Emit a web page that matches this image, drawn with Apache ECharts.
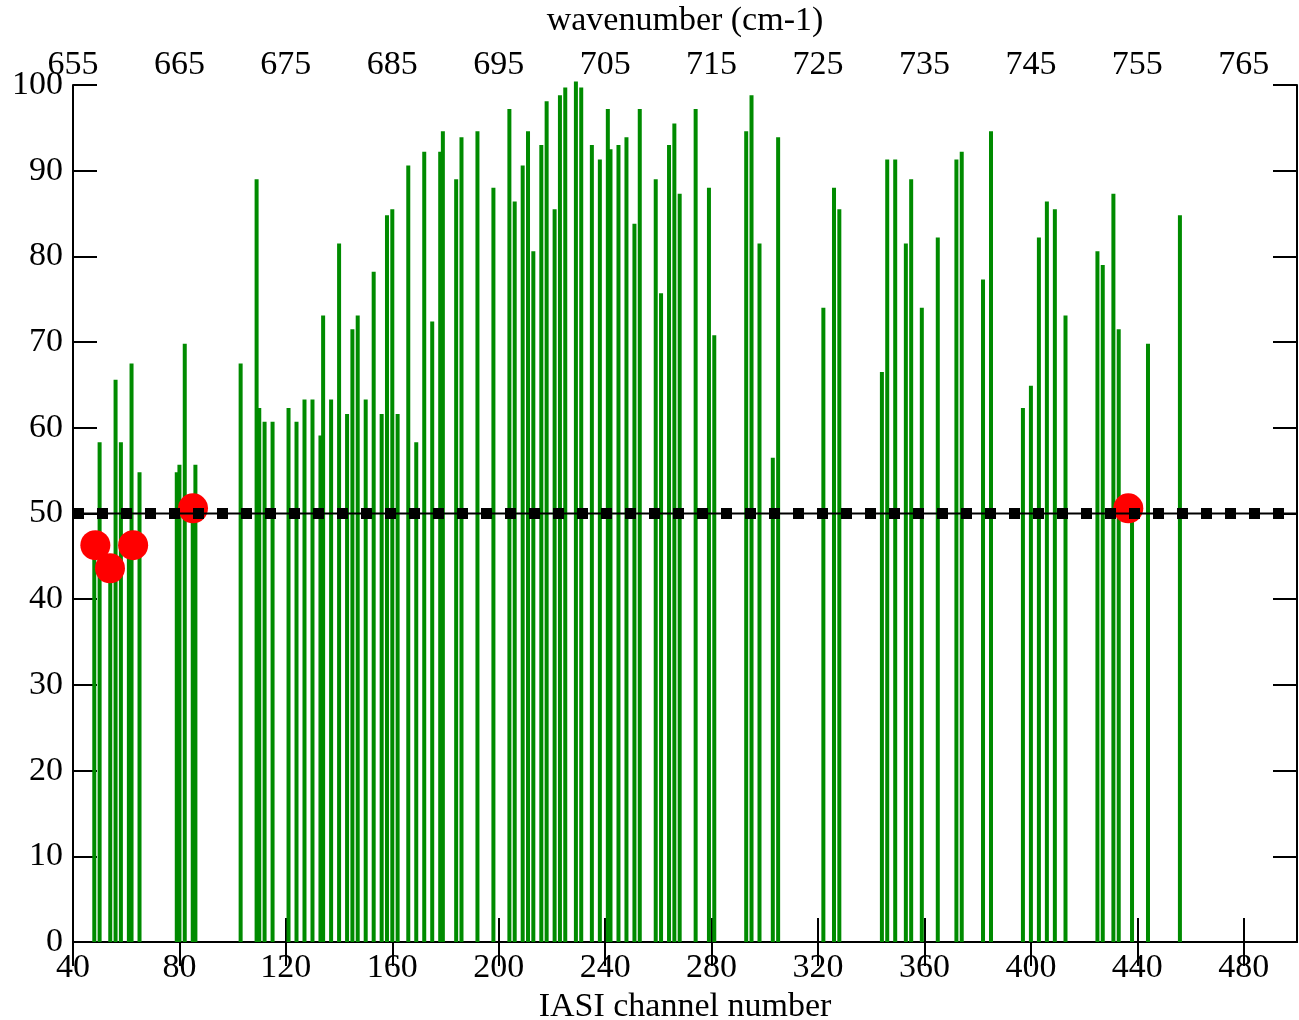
<!DOCTYPE html>
<html>
<head>
<meta charset="utf-8">
<script src="https://cdn.jsdelivr.net/npm/echarts@6/dist/echarts.min.js"></script>
<style>
  html, body { margin: 0; padding: 0; background: #fff; }
  #chart { width: 1299px; height: 1020px; }
</style>
</head>
<body>
<div id="chart"></div>
<script>
// IASI channel numbers of the selected channels
const channels = [
  48, 50, 54, 56, 58, 61, 62, 65,
  79, 80, 82, 85, 86,
  103, 109, 110, 112, 115, 121, 124, 127, 130, 133, 134, 137, 140,
  143, 145, 147, 150, 153, 156, 158, 160, 162, 166, 169, 172, 175,
  178, 179, 184, 186, 192, 198, 204, 206, 209, 211, 213, 216, 218,
  221, 223, 225, 229, 231, 235, 238, 241, 242, 245, 248, 251, 253,
  259, 261, 264, 266, 268, 274, 279, 281, 293, 295, 298, 303, 305,
  322, 326, 328, 344, 346, 349, 353, 355, 359, 365, 372, 374, 382, 385,
  397, 400, 403, 406, 409, 413, 425, 427, 431, 433, 438, 444, 456
];
// percentage value for each channel
const values = [
  46.0, 58.3, 43.5, 65.6, 58.3, 46.0, 67.5, 54.8,
  54.8, 55.7, 69.8, 50.5, 55.7,
  67.5, 89.0, 62.3, 60.7, 60.7, 62.3, 60.7, 63.3, 63.3, 59.1, 73.1, 63.3, 81.5,
  61.6, 71.5, 73.1, 63.3, 78.2, 61.6, 84.8, 85.5, 61.6, 90.6, 58.3, 92.2, 72.4,
  92.2, 94.6, 89.0, 93.9, 94.6, 88.0, 97.2, 86.4, 90.6, 94.6, 80.6, 93.0, 98.1,
  85.5, 98.8, 99.7, 100.4, 99.7, 93.0, 91.3, 97.2, 92.5, 93.0, 93.9, 83.8, 97.2,
  89.0, 75.7, 93.0, 95.5, 87.3, 97.2, 88.0, 70.8, 94.6, 98.8, 81.5, 56.5, 93.9,
  74.0, 88.0, 85.5, 66.5, 91.3, 91.3, 81.5, 89.0, 74.0, 82.2, 91.3, 92.2, 77.3, 94.6,
  62.3, 64.9, 82.2, 86.4, 85.5, 73.1, 80.6, 79.0, 87.3, 71.5, 50.0, 69.8, 84.8
];
// highlighted points
const markChannels = [48.4, 53.9, 62.6, 85.1, 436.6];
const markValues = [46.3, 43.6, 46.3, 50.6, 50.6];
// reference level
const threshold = 50;

// axis ranges
const chMin = 40, chMax = 500, chStep = 40;
const yMin = 0, yMax = 100, yStep = 10;
// wavenumber (cm-1) of an IASI channel
const toWavenumber = ch => 645 + ch * 0.25;

const FONT = 'Liberation Serif';
const FS = 34;

const barData = channels.map((c, i) => [c, values[i]]);
const markData = markChannels.map((c, i) => [c, markValues[i]]);
const lineData = [[chMin, threshold], [chMax, threshold]];

const axisLine = { show: true, lineStyle: { color: '#000', width: 2 } };
const axisTick = { show: true, inside: true, length: 24, lineStyle: { color: '#000', width: 2 } };

const chart = echarts.init(document.getElementById('chart'), null, { renderer: 'canvas' });
chart.setOption({
  animation: false,
  backgroundColor: '#fff',
  grid: { left: 73, right: 2, top: 85, bottom: 78, containLabel: false, outerBoundsMode: 'none' },
  xAxis: [
    {
      type: 'value', position: 'bottom', min: chMin, max: chMax, interval: chStep,
      name: 'IASI channel number', nameLocation: 'middle', nameGap: 47,
      nameTextStyle: { fontFamily: FONT, fontSize: FS, color: '#000' },
      axisLine, axisTick, splitLine: { show: false },
      axisLabel: { fontFamily: FONT, fontSize: FS, color: '#000', margin: 9, showMaxLabel: false }
    },
    {
      type: 'value', position: 'top', min: chMin, max: chMax, interval: chStep,
      name: 'wavenumber (cm-1)', nameLocation: 'middle', nameGap: 47,
      nameTextStyle: { fontFamily: FONT, fontSize: FS, color: '#000' },
      axisLine, axisTick, splitLine: { show: false },
      axisLabel: { fontFamily: FONT, fontSize: FS, color: '#000', margin: 3, showMaxLabel: false,
        formatter: v => String(toWavenumber(v)) }
    }
  ],
  yAxis: [
    {
      type: 'value', position: 'left', min: yMin, max: yMax, interval: yStep,
      axisLine, axisTick, splitLine: { show: false },
      axisLabel: { fontFamily: FONT, fontSize: FS, color: '#000', margin: 10 }
    },
    {
      type: 'value', position: 'right', min: yMin, max: yMax, interval: yStep,
      axisLine, axisTick, splitLine: { show: false },
      axisLabel: { show: false }
    }
  ],
  series: [
    {
      type: 'bar', xAxisIndex: 0, yAxisIndex: 0, data: barData,
      barWidth: 4, clip: false, z: 2,
      itemStyle: { color: '#008b00' }
    },
    {
      type: 'scatter', xAxisIndex: 0, yAxisIndex: 0, data: markData,
      symbol: 'circle', symbolSize: 30, z: 3,
      itemStyle: { color: '#ff0000', opacity: 1 }
    },
    {
      type: 'line', xAxisIndex: 0, yAxisIndex: 0, data: lineData,
      symbol: 'none', z: 4, silent: true,
      lineStyle: { color: '#000', width: 2, type: 'solid' }
    },
    {
      type: 'line', xAxisIndex: 0, yAxisIndex: 0, data: lineData,
      symbol: 'none', z: 5, silent: true,
      lineStyle: { color: '#000', width: 11, type: [11, 13], cap: 'butt' }
    }
  ]
});
</script>
</body>
</html>
